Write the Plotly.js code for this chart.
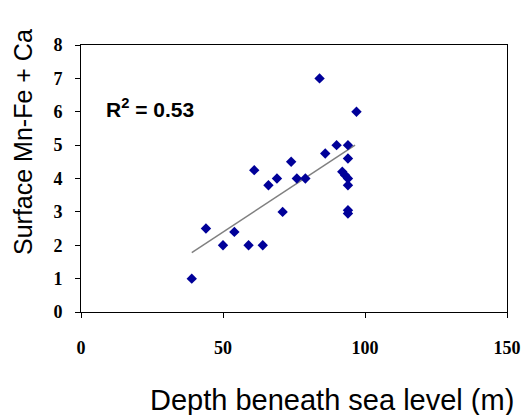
<!DOCTYPE html>
<html>
<head>
<meta charset="utf-8">
<script src="https://cdn.plot.ly/plotly-3.0.1.min.js"></script>
<style>html,body{margin:0;padding:0;background:#fff;}#chart{width:523px;height:415px;}</style>
</head>
<body>
<div id="chart"></div>
<script>
// Depth beneath sea level (m)
var depth = [39, 44, 50, 54, 59, 64, 61, 66, 69, 71, 74, 76, 79, 84, 86, 90, 94, 94, 92, 93, 94, 94, 94, 94, 97];
// Surface Mn-Fe + Ca
var surface = [1, 2.5, 2, 2.4, 2, 2, 4.25, 3.8, 4, 3, 4.5, 4, 4, 7, 4.75, 5, 5, 4.6, 4.2, 4.1, 4, 3.8, 3.05, 2.95, 6];
// fitted trend line as drawn in the reference (end points)
var trendX = [39, 96.5];
var trendY = [1.78, 5.0];
var xTicks = [0, 50, 100, 150];
var yTicks = [0, 1, 2, 3, 4, 5, 6, 7, 8];
var r2Label = 'R<sup>2</sup> = 0.53';
var xTitle = 'Depth beneath sea level (m)';
var yTitle = 'Surface Mn-Fe + Ca';

var tickFont = {family: '"Liberation Serif", "Times New Roman", serif', size: 18, color: '#000', weight: 'bold'};
var traces = [
  {x: trendX, y: trendY, mode: 'lines', line: {color: '#808080', width: 1.5}, hoverinfo: 'skip'},
  {x: depth, y: surface, mode: 'markers', marker: {symbol: 'diamond', size: 8, color: '#000099'}}
];
var layout = {
  width: 523, height: 415,
  margin: {l: 81, r: 16, t: 45, b: 103},
  showlegend: false,
  paper_bgcolor: '#fff', plot_bgcolor: '#fff',
  font: {family: '"Liberation Sans", Arial, sans-serif', color: '#000'},
  xaxis: {
    range: [0, 150], tickvals: xTicks, ticktext: xTicks.map(String),
    showgrid: false, zeroline: false, showline: true, mirror: true,
    linecolor: '#000', linewidth: 1, ticks: 'outside', ticklen: 5, tickcolor: '#000',
    tickfont: tickFont, ticklabelstandoff: 14
  },
  yaxis: {
    range: [0, 8], tickvals: yTicks, ticktext: yTicks.map(String),
    showgrid: false, zeroline: false, showline: true, mirror: true,
    linecolor: '#000', linewidth: 1, ticks: 'outside', ticklen: 5, tickcolor: '#000',
    tickfont: tickFont, ticklabelstandoff: 9
  },
  annotations: [
    {x: 8, y: 6.1, xref: 'x', yref: 'y', xanchor: 'left', yanchor: 'middle',
     text: '<b>' + r2Label + '</b>', showarrow: false, font: {size: 21, color: '#000'}},
    {x: 332, y: 415 - 400, xref: 'paper', yref: 'paper', xanchor: 'center', yanchor: 'middle',
     text: xTitle, showarrow: false, font: {size: 29, color: '#000'}},
    {x: 23, y: 415 - 142, xref: 'paper', yref: 'paper', xanchor: 'center', yanchor: 'middle',
     text: yTitle, textangle: -90, showarrow: false, font: {size: 25, color: '#000'}}
  ]
};
// convert pixel positions of the titles into paper coordinates
var pw = 523 - 81 - 16, ph = 415 - 45 - 103;
layout.annotations[1].x = (332 - 81) / pw; layout.annotations[1].y = (312 - 400) / ph;
layout.annotations[2].x = (23 - 81) / pw; layout.annotations[2].y = (312 - 142) / ph;
Plotly.newPlot('chart', traces, layout, {displayModeBar: false, staticPlot: true});
</script>
</body>
</html>
